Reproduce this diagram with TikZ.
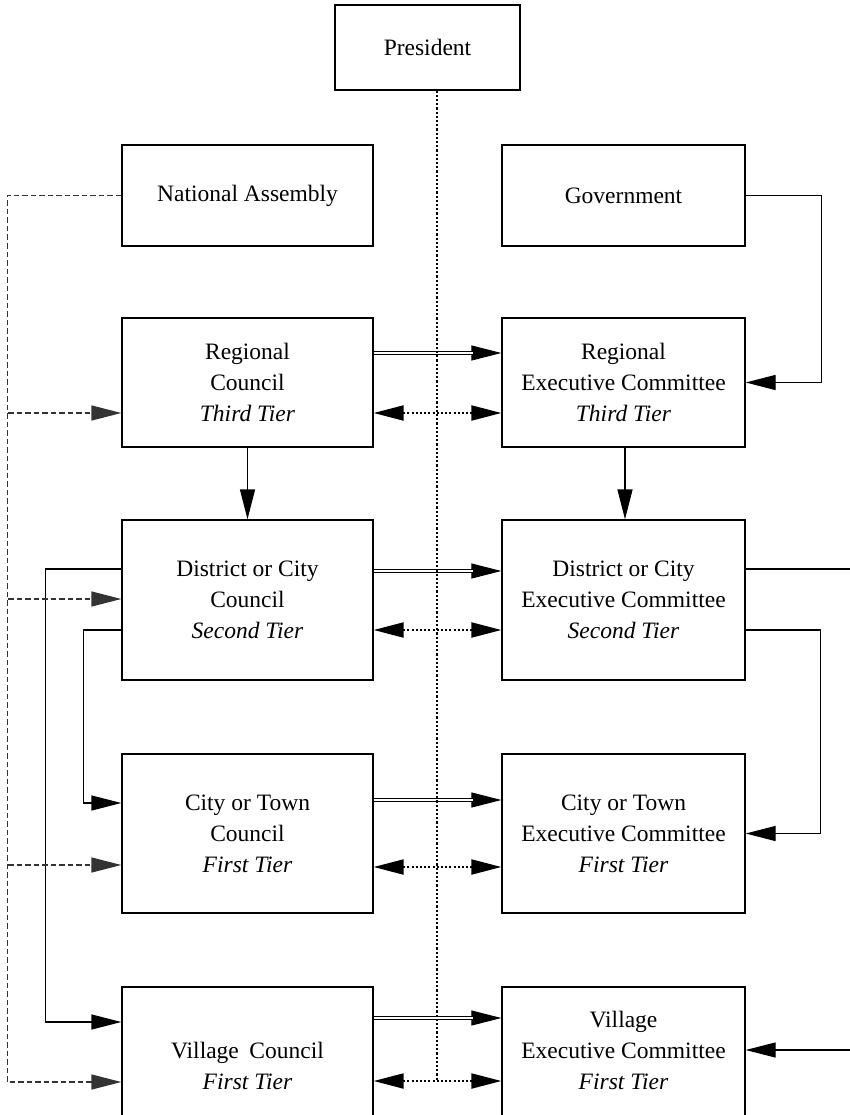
\documentclass[tikz,border=0pt]{standalone}
\usepackage{fontspec}
\setmainfont{Liberation Serif}
\usetikzlibrary{arrows.meta}
\begin{document}
\begin{tikzpicture}[x=1pt,y=-1pt,
  txt/.style={font=\fontsize{23.5}{31}\selectfont},
  box/.style={draw, line width=1.3pt, inner sep=0pt, align=center, txt},
  lbl/.style={inner sep=0pt, align=center, txt},
  leftbox/.style={box, minimum width=251pt},
  rightbox/.style={box, minimum width=243pt},
  tip/.style={-{Triangle[length=30pt,width=15pt]}},
  solidarr/.style={line width=1.3pt, tip},
  solidline/.style={line width=1.3pt},
  dsh/.style={draw=black!80, line width=1.3pt, dash pattern=on 5.5pt off 3pt},
  dsharr/.style={dsh, tip},
  dot/.style={line width=2.1pt, dash pattern=on 2.1pt off 2.1pt},
  dotarr/.style={dot, {Triangle[length=30pt,width=15pt]}-{Triangle[length=30pt,width=15pt]}},
  dblline/.style={line width=1pt, double distance=2.4pt, shorten >=28pt},
]
\useasboundingbox (0,0) rectangle (850,1115);

% top level
\node[box, minimum width=185pt, minimum height=85pt] (pres) at (427.5,47.5) {President};
\node[leftbox, minimum height=101pt] (na) at (247.5,195.5) {National Assembly};
\node[rightbox, minimum height=101pt] (gov) at (623.5,195.5) {Government};

% third tier
\node[leftbox, minimum height=129pt] (rc) at (247.5,382.5) {Regional\\Council\\\textit{Third Tier}};
\node[rightbox, minimum height=129pt] (rec) at (623.5,382.5) {Regional\\Executive Committee\\\textit{Third Tier}};

% second tier
\node[leftbox, minimum height=160pt] (dc) at (247.5,600) {District or City\\Council\\\textit{Second Tier}};
\node[rightbox, minimum height=160pt] (dec) at (623.5,600) {District or City\\Executive Committee\\\textit{Second Tier}};

% first tier: city or town
\node[leftbox, minimum height=159pt] (ctc) at (247.5,833.5) {City or Town\\Council\\\textit{First Tier}};
\node[rightbox, minimum height=159pt] (ctec) at (623.5,833.5) {City or Town\\Executive Committee\\\textit{First Tier}};

% first tier: village (boxes run past the lower edge)
\node[leftbox, minimum height=160pt] (vc) at (247.5,1067) {};
\node[rightbox, minimum height=160pt] (vec) at (623.5,1067) {};
\node[lbl] (vct) at ([yshift=1.5pt]vc.center) {Village\hspace{0.45em}Council\\\textit{First Tier}};
\node[lbl] (vect) at ([yshift=17pt]vec.center) {Village\\Executive Committee\\\textit{First Tier}};

% council to executive committee: double arrows
\foreach \a/\b/\s in {rc/rec/29.5, dc/dec/29, ctc/ctec/33.5, vc/vec/49}{
  \draw[solidarr, line width=1pt] ([yshift=\s pt]\a.east) -- ([yshift=\s pt]\b.west);
  \draw[dblline] ([yshift=\s pt]\a.east) -- ([yshift=\s pt]\b.west);
}

% dotted two-way arrows
\foreach \a/\b/\s in {rc/rec/-30.5, dc/dec/-30, ctc/ctec/-33.5, vc/vec/-14}{
  \draw[dotarr] ([yshift=\s pt]\a.east) -- ([yshift=\s pt]\b.west);
}

% vertical downward arrows
\draw[solidarr] (rc.south) -- (dc.north);
\draw[solidarr] ([xshift=1.5pt]rec.south) -- ([xshift=1.5pt]dec.north);

% government to regional executive committee
\draw[solidarr] (gov.east) -| ([xshift=76pt]rec.east) -- (rec.east);

% district executive committee links
\coordinate (decout) at (856,569);
\draw[solidline] ([yshift=31pt]dec.east) -- (decout);
\draw[solidarr] ([yshift=-30pt]dec.east) -| ([xshift=75pt]ctec.east) -- (ctec.east);

% village executive committee incoming
\coordinate (vecin) at (856,1050);
\draw[solidarr] (vecin) -- ([yshift=17pt]vec.east);

% district council to lower councils
\draw[solidarr] ([yshift=31pt]dc.west) -| ([xshift=-76pt,yshift=45pt]vc.west) -- ([yshift=45pt]vc.west);
\draw[solidarr] ([yshift=-30pt]dc.west) -| ([xshift=-38pt,yshift=30.5pt]ctc.west) -- ([yshift=30.5pt]ctc.west);

% national assembly dashed links
\coordinate (trunk) at (8,196);
\draw[dsharr] (na.west) -| ([xshift=-114pt,yshift=-15pt]vc.west) -- ([yshift=-15pt]vc.west);
\foreach \b/\s in {rc/-30.5, dc/1, ctc/-31.5}{
  \coordinate (tgt) at ([yshift=\s pt]\b.west);
  \draw[dsharr] (trunk |- tgt) -- (tgt);
}

% president dotted line
\coordinate (pend) at (437,1081);
\draw[dot] (pres.south -| pend) -- (pend);
\end{tikzpicture}
\end{document}
